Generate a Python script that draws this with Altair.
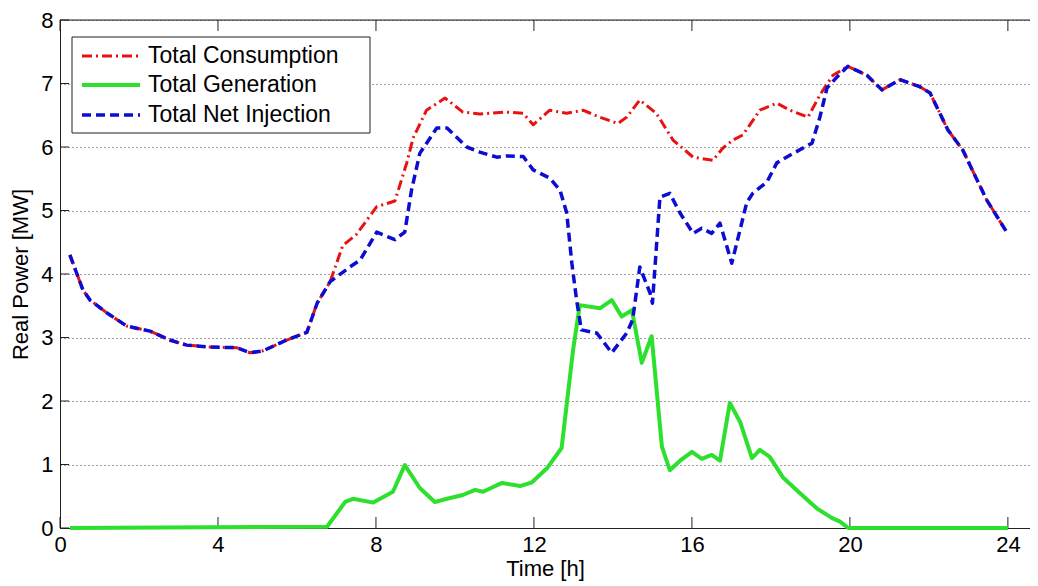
import altair as alt
import pandas as pd

# ---------------- data ----------------
cons_t = [0.25, 0.58, 0.76, 1.18, 1.69, 2.28, 2.78, 3.21, 3.80, 4.47, 4.81, 5.14, 5.74, 6.25,
          6.51, 6.84, 7.16, 7.50, 8.02, 8.48, 8.78, 8.94, 9.28, 9.75, 10.20, 10.63, 11.30,
          11.73, 11.98, 12.40, 12.83, 13.24, 13.67, 14.13, 14.35, 14.68, 15.10, 15.52, 16.03,
          16.53, 16.78, 17.04, 17.29, 17.72, 18.15, 18.48, 18.94, 19.24, 19.57, 19.95, 20.43,
          20.81, 21.27, 21.77, 22.03, 22.48, 22.86, 23.22, 23.47, 23.97]
cons_v = [4.30, 3.75, 3.59, 3.39, 3.18, 3.10, 2.96, 2.88, 2.85, 2.84, 2.76, 2.79, 2.96, 3.08,
          3.54, 3.88, 4.45, 4.62, 5.06, 5.15, 5.75, 6.14, 6.58, 6.77, 6.55, 6.52, 6.55,
          6.53, 6.35, 6.58, 6.53, 6.58, 6.47, 6.37, 6.47, 6.74, 6.53, 6.11, 5.84,
          5.79, 5.98, 6.11, 6.19, 6.58, 6.69, 6.58, 6.47, 6.82, 7.13, 7.27, 7.13,
          6.90, 7.06, 6.95, 6.85, 6.27, 5.95, 5.48, 5.16, 4.66]

gen_t = [0.25, 6.76, 7.22, 7.42, 7.93, 8.43, 8.73, 9.11, 9.49, 9.80, 10.20, 10.51, 10.71,
         11.19, 11.65, 11.95, 12.33, 12.70, 12.99, 13.16, 13.67, 13.97, 14.22, 14.48, 14.73,
         14.98, 15.24, 15.44, 15.70, 16.00, 16.25, 16.50, 16.71, 16.96, 17.22, 17.52, 17.72,
         17.97, 18.30, 18.73, 19.16, 19.54, 19.75, 19.96, 24.00]
gen_v = [0.00, 0.02, 0.41, 0.46, 0.40, 0.57, 0.99, 0.63, 0.41, 0.46, 0.52, 0.60, 0.57,
         0.71, 0.66, 0.72, 0.94, 1.26, 2.80, 3.51, 3.46, 3.59, 3.33, 3.43, 2.60,
         3.02, 1.28, 0.91, 1.06, 1.20, 1.09, 1.15, 1.06, 1.97, 1.67, 1.10, 1.23,
         1.12, 0.80, 0.55, 0.31, 0.16, 0.10, 0.00, 0.00]

net_t = [0.25, 0.58, 0.76, 1.18, 1.69, 2.28, 2.78, 3.21, 3.80, 4.47, 4.81, 5.14, 5.74, 6.25,
         6.51, 6.84, 7.34, 7.60, 8.02, 8.48, 8.73, 8.90, 9.11, 9.54, 9.80, 10.30, 10.63,
         11.06, 11.30, 11.73, 11.98, 12.40, 12.66, 12.83, 12.96, 13.08, 13.20, 13.59, 13.97,
         14.35, 14.50, 14.68, 14.94, 15.00, 15.19, 15.44, 15.70, 16.03, 16.25, 16.50, 16.71,
         17.01, 17.39, 17.54, 17.90, 18.15, 18.48, 18.86, 19.04, 19.24, 19.42, 19.67, 19.95,
         20.43, 20.81, 21.27, 21.77, 22.03, 22.48, 22.86, 23.22, 23.47, 23.97]
net_v = [4.30, 3.75, 3.59, 3.39, 3.18, 3.10, 2.96, 2.88, 2.85, 2.84, 2.76, 2.79, 2.96, 3.08,
         3.54, 3.88, 4.11, 4.22, 4.66, 4.54, 4.66, 5.32, 5.90, 6.30, 6.30, 6.00, 5.92,
         5.84, 5.86, 5.85, 5.64, 5.51, 5.32, 4.96, 4.17, 3.59, 3.12, 3.07, 2.76,
         3.07, 3.28, 4.11, 3.70, 3.54, 5.21, 5.27, 4.96, 4.64, 4.72, 4.64, 4.80,
         4.17, 5.13, 5.27, 5.45, 5.75, 5.87, 6.00, 6.06, 6.47, 6.93, 7.10, 7.27,
         7.13, 6.90, 7.06, 6.95, 6.85, 6.27, 5.95, 5.48, 5.16, 4.66]

x_ticks = [0, 4, 8, 12, 16, 20, 24]
y_ticks = [0, 1, 2, 3, 4, 5, 6, 7, 8]
legend_labels = ["Total Consumption", "Total Generation", "Total Net Injection"]
series_colors = ["#e81212", "#2ee02e", "#0c0cd2"]
series_dash = [[10, 4, 2, 4], None, [9, 5]]
series_width = [3, 4, 3.5]

# ---------------- chart ----------------
FONT = "Liberation Sans"
W, H = 970, 508
XMAX = 24.56
xs = alt.Scale(domain=[0, XMAX], nice=False, zero=False)
ys = alt.Scale(domain=[0, 8], nice=False)
AX = "#222222"

x_axis = alt.Axis(values=x_ticks, title="Time [h]", grid=False, ticks=False, format="d",
                  labelPadding=6, titlePadding=3, domainColor=AX, labelColor="black",
                  titleColor="black", labelFontSize=22, titleFontSize=22,
                  titleFontWeight="normal", labelFont=FONT, titleFont=FONT,
                  labelFlush=False)
y_axis = alt.Axis(values=y_ticks, title="Real Power [MW]", grid=True, gridDash=[1, 3],
                  gridColor="#000000", gridOpacity=0.75, gridWidth=1, ticks=False, format="d",
                  labelPadding=7, titlePadding=8, domainColor=AX, labelColor="black",
                  titleColor="black", labelFontSize=22, titleFontSize=22,
                  titleFontWeight="normal", labelFont=FONT, titleFont=FONT,
                  labelFlush=False)

tick_x_df = pd.DataFrame({"t": x_ticks})
tick_y_df = pd.DataFrame({"v": y_ticks})

axes_layer = alt.Chart(tick_y_df).mark_rule(color=AX, strokeWidth=1).encode(
    y=alt.Y("v:Q", scale=ys, axis=y_axis), x=alt.value(0), x2=alt.value(9))

bottom_ticks = alt.Chart(tick_x_df).mark_rule(color=AX, strokeWidth=1).encode(
    x=alt.X("t:Q", scale=xs, axis=x_axis), y=alt.value(H - 11), y2=alt.value(H))
top_ticks = alt.Chart(tick_x_df).mark_rule(color=AX, strokeWidth=1).encode(
    x=alt.X("t:Q", scale=xs), y=alt.value(0), y2=alt.value(11))

one = pd.DataFrame({"a": [0]})
top_border = alt.Chart(one).mark_rule(color=AX, strokeWidth=1).encode(
    x=alt.value(0), x2=alt.value(W), y=alt.value(0))


def series(t, v, i):
    kw = dict(color=series_colors[i], strokeWidth=series_width[i], strokeJoin="round")
    if series_dash[i] is not None:
        kw["strokeDash"] = series_dash[i]
    df = pd.DataFrame({"t": t, "v": v})
    return alt.Chart(df).mark_line(**kw).encode(
        x=alt.X("t:Q", scale=xs), y=alt.Y("v:Q", scale=ys))


cons = series(cons_t, cons_v, 0)
gen = series(gen_t, gen_v, 1)
net = series(net_t, net_v, 2)

# legend box (drawn manually to match the MATLAB legend)
legend_box = alt.Chart(one).mark_rect(fill="white", stroke=AX, strokeWidth=1).encode(
    x=alt.value(12), x2=alt.value(310), y=alt.value(17), y2=alt.value(113))
legend_layers = [legend_box]
row_y = [36, 65, 95]
for i, lab in enumerate(legend_labels):
    kw = dict(color=series_colors[i], strokeWidth=series_width[i])
    if series_dash[i] is not None:
        kw["strokeDash"] = series_dash[i]
    legend_layers.append(alt.Chart(one).mark_rule(**kw).encode(
        x=alt.value(22), x2=alt.value(80), y=alt.value(row_y[i])))
    legend_layers.append(alt.Chart(one).mark_text(
        align="left", baseline="middle", fontSize=23, font=FONT, color="black").encode(
        x=alt.value(88), y=alt.value(row_y[i]), text=alt.value(lab)))

chart = alt.layer(
    axes_layer, bottom_ticks, top_ticks, top_border, cons, gen, net, *legend_layers
).properties(
    width=W, height=H,
    padding={"left": 52, "top": 12, "right": 0, "bottom": 56},
    autosize=alt.AutoSizeParams(type="none"),
    background="white",
).configure_view(stroke=None).configure(font=FONT)

chart.save("out.html", embed_options={"renderer": "svg", "actions": False})
